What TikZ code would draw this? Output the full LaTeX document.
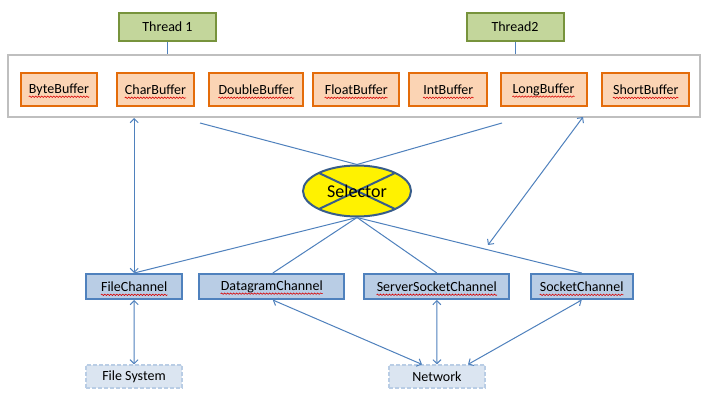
\documentclass[tikz,border=0pt]{standalone}
\usepackage{fontspec}
\setmainfont{Carlito}
\usetikzlibrary{arrows.meta,decorations.pathmorphing,calc,shapes.geometric}
\definecolor{conn}{HTML}{4F81BD}
\definecolor{thrfill}{HTML}{C3D69B}
\definecolor{thrdraw}{HTML}{77933C}
\definecolor{buffill}{HTML}{FBD4B4}
\definecolor{bufdraw}{HTML}{E46C0A}
\definecolor{chfill}{HTML}{B9CDE5}
\definecolor{chdraw}{HTML}{4F81BD}
\definecolor{fsfill}{HTML}{DBE5F1}
\definecolor{fsdraw}{HTML}{B9CDE5}
\definecolor{seldraw}{HTML}{385D8A}
\definecolor{contdraw}{HTML}{BFBFBF}
\tikzset{
  thr/.style={draw=thrdraw, fill=thrfill, line width=2pt, minimum width=97pt, minimum height=28pt, inner sep=0pt, font=\fontsize{14pt}{16pt}\selectfont},
  buf/.style={draw=bufdraw, fill=buffill, line width=2pt, minimum height=33pt, inner sep=0pt},
  ch/.style={draw=chdraw, fill=chfill, line width=2pt, minimum height=25pt, inner sep=0pt},
  ext/.style={draw=fsdraw, fill=fsfill, line width=1.6pt, dash pattern=on 4pt off 2pt, minimum height=23pt, inner sep=0pt, font=\fontsize{14pt}{16pt}\selectfont},
  lbl/.style={inner sep=0pt, font=\fontsize{14pt}{16pt}\selectfont},
  squig/.style={draw=red!85!black, line width=0.6pt, decorate, decoration={snake, amplitude=0.7pt, segment length=3pt}},
  link/.style={draw=conn, line width=1pt},
  dbl/.style={link, {Straight Barb[length=4pt,width=8pt]}-{Straight Barb[length=4pt,width=8pt]}},
}
\newcommand{\sqline}[1]{\draw[squig] ([yshift=-3.5pt]#1.base west) -- ([yshift=-3.5pt]#1.base east);}
\begin{document}
\begin{tikzpicture}[x=1pt,y=-1pt]
\useasboundingbox[fill=white] (0,0) rectangle (708,404);
% container
\node[draw=contdraw, line width=2pt, minimum width=692pt, minimum height=62pt, inner sep=0pt] (cont) at (354,86) {};
% threads
\node[thr] (th1) at (167.5,27) {Thread 1};
\node[thr] (th2) at (515,27) {Thread2};
\draw[link] (th1.south) -- (th1.south |- cont.north);
\draw[link] (th2.south) -- (th2.south |- cont.north);
% buffers
\node[buf, minimum width=76pt] (b1) at (59,89.5) {};
\node[buf, minimum width=77pt] (b2) at (155.5,89.5) {};
\node[buf, minimum width=94pt] (b3) at (256.3,89.5) {};
\node[buf, minimum width=86pt] (b4) at (356.3,89.5) {};
\node[buf, minimum width=78pt] (b5) at (448.3,89.5) {};
\node[buf, minimum width=86pt] (b6) at (543.5,89.5) {};
\node[buf, minimum width=87pt] (b7) at (645.8,89.5) {};
\node[lbl] (t1) at (b1) {ByteBuffer};
\node[lbl] (t2) at (b2) {CharBuffer};
\node[lbl] (t3) at (b3) {DoubleBuffer};
\node[lbl] (t4) at (b4) {FloatBuffer};
\node[lbl] (t5) at (b5) {IntBuffer};
\node[lbl] (t6) at (b6) {LongBuffer};
\node[lbl] (t7) at (b7) {ShortBuffer};
\sqline{t1}\sqline{t2}\sqline{t3}\sqline{t4}\sqline{t5}\sqline{t6}\sqline{t7}
% selector
\node[ellipse, draw=seldraw, fill=yellow, line width=2pt, minimum width=108pt, minimum height=51pt, inner sep=0pt] (sel) at (357,191) {};
\draw[seldraw, line width=2pt] ($(sel.center)+(-38,-18)$) -- ($(sel.center)+(38,18)$);
\draw[seldraw, line width=2pt] ($(sel.center)+(38,-18)$) -- ($(sel.center)+(-38,18)$);
\node[inner sep=0pt, font=\fontsize{18pt}{20pt}\selectfont] (selt) at (sel.center) {Selector};
\coordinate (ul) at (200,123);
\coordinate (ur) at (502,123);
\draw[link] (ul) -- (sel.north);
\draw[link] (ur) -- (sel.north);
% channels
\node[ch, minimum width=96pt] (fc) at (134.2,286.5) {};
\node[ch, minimum width=145pt] (dc) at (271.8,286.5) {};
\node[ch, minimum width=145pt] (ssc) at (436.8,286.5) {};
\node[ch, minimum width=102pt] (sc) at (581.7,286.5) {};
\node[lbl] (tfc) at (fc) {FileChannel};
\node[lbl] (tdc) at (dc) {DatagramChannel};
\node[lbl] (tssc) at (ssc) {ServerSocketChannel};
\node[lbl] (tsc) at (sc) {SocketChannel};
\sqline{tfc}\sqline{tdc}\sqline{tssc}\sqline{tsc}
\draw[link] (sel.south) -- (fc.north);
\draw[link] (sel.south) -- ([xshift=1pt]dc.north);
\draw[link] (sel.south) -- (ssc.north);
\draw[link] (sel.south) -- (sc.north);
% externals
\node[ext, minimum width=96pt] (fs) at (134,376.7) {File System};
\node[ext, minimum width=96pt] (net) at (437,376.7) {Network};
% double arrows
\draw[dbl] (fc.north |- cont.south) -- (fc.north);
\coordinate (mid) at (488,245);
\draw[dbl] (583,117) -- (mid);
\draw[dbl] (fc.south) -- (fs.north);
\draw[dbl] ([xshift=1pt]dc.south) -- ([xshift=-15pt]net.north);
\draw[dbl] (ssc.south) -- (net.north);
\draw[dbl] (sc.south) -- ([xshift=31pt]net.north);
\end{tikzpicture}
\end{document}
